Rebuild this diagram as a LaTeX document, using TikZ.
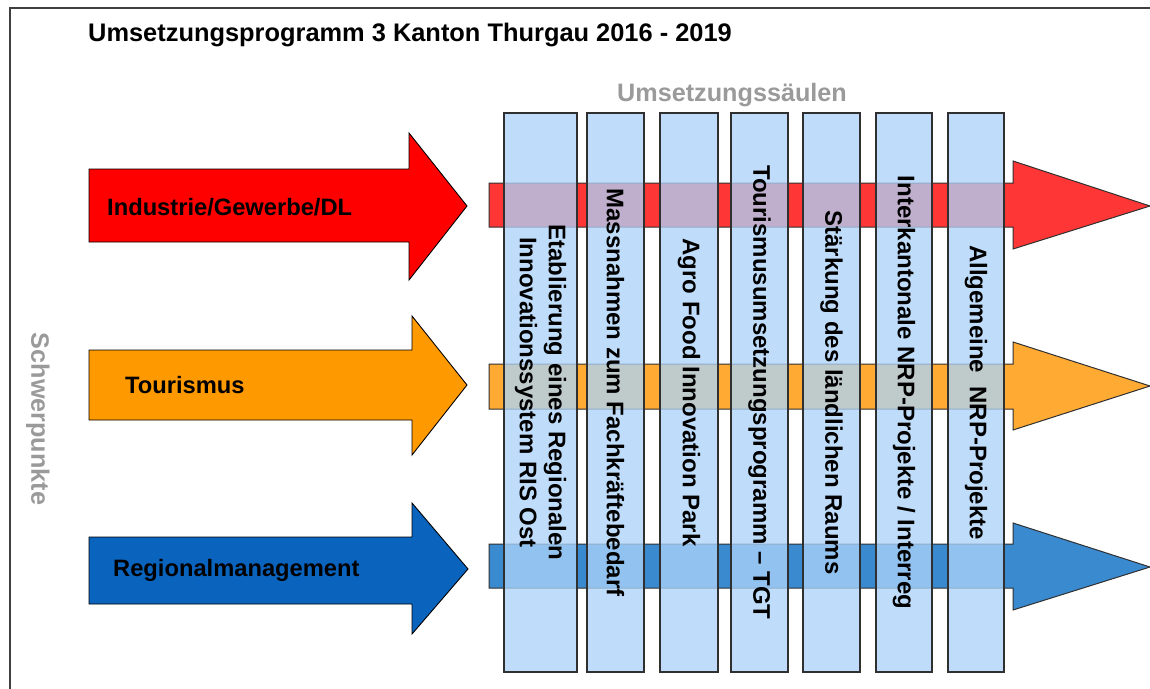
\documentclass[tikz,border=0pt]{standalone}
\usepackage{fontspec}
\setmainfont{Liberation Sans}
\definecolor{framegray}{HTML}{404040}
\definecolor{labelgray}{HTML}{9A9A9A}
\definecolor{redA}{HTML}{FF0000}
\definecolor{redB}{HTML}{FF3636}
\definecolor{orangeA}{HTML}{FF9900}
\definecolor{orangeB}{HTML}{FFAA33}
\definecolor{blueA}{HTML}{0A64BE}
\definecolor{blueB}{HTML}{3A8AD0}
\definecolor{colfill}{HTML}{ADD4FA}
\definecolor{coledge}{HTML}{303030}
\begin{document}
\begin{tikzpicture}[x=1pt,y=-1pt,
  bigarrow/.style={draw=black,line width=0.9pt,line join=miter},
  band/.style={draw=coledge,line width=1pt,line join=miter},
  pillar/.style={rotate=-90,draw=coledge,line width=1.4pt,fill=colfill,fill opacity=0.77,text opacity=1,
     minimum width=559pt,inner sep=0pt,align=center,font=\bfseries\fontsize{24}{29}\selectfont},
  arrowlabel/.style={anchor=west,inner sep=0pt,font=\bfseries\fontsize{23.7}{28}\selectfont},
  graylabel/.style={inner sep=0pt,text=labelgray,font=\bfseries\fontsize{25.2}{30}\selectfont}]
\useasboundingbox (0,0) rectangle (1150,688);
\fill[white] (0,0) rectangle (1150,688);
% frame
\draw[framegray,line width=2pt] (10,690) -- (10,8) -- (1152,8);
% title
\node[anchor=base west,inner sep=0pt,font=\bfseries\fontsize{25.4}{30}\selectfont] (title) at (88,41) {Umsetzungsprogramm 3 Kanton Thurgau 2016 - 2019};
\node[graylabel,anchor=base west] (saeulen) at (617,101) {Umsetzungssäulen};
\node[graylabel,rotate=-90] (schwer) at (38,419) {Schwerpunkte};
% left arrows
\path[bigarrow,fill=redA] (89,169) -- (409,169) -- (409,133) -- (467,206) -- (409,280) -- (409,242) -- (89,242) -- cycle;
\path[bigarrow,fill=orangeA] (89,350) -- (412,350) -- (412,316) -- (467,385) -- (412,455) -- (412,420) -- (89,420) -- cycle;
\path[bigarrow,fill=blueA] (89,537) -- (412,537) -- (412,503) -- (468,569) -- (412,634) -- (412,604) -- (89,604) -- cycle;
\node[arrowlabel] (industrie) at (107,207) {Industrie/Gewerbe/DL};
\node[arrowlabel] (tourismus) at (125,385) {Tourismus};
\node[arrowlabel] (regional) at (113,570) {Regionalmanagement};
% right bands
\path[band,fill=redB] (489,183) -- (1013,183) -- (1013,161) -- (1150,206) -- (1013,249) -- (1013,227) -- (489,227) -- cycle;
\path[band,fill=orangeB] (489,364) -- (1013,364) -- (1013,342) -- (1150,386) -- (1013,430) -- (1013,409) -- (489,409) -- cycle;
\path[band,fill=blueB] (489,544) -- (1013,544) -- (1013,523) -- (1150,567) -- (1013,610) -- (1013,588) -- (489,588) -- cycle;
% pillars
\node[pillar,minimum height=73pt] (c1) at (540.5,392.5) {Etablierung eines Regionalen\\Innovationssystem RIS Ost};
\node[pillar,minimum height=57pt] (c2) at (615.5,392.5) {Massnahmen zum Fachkräftebedarf};
\node[pillar,minimum height=58pt] (c3) at (689,392.5) {Agro Food Innovation Park};
\node[pillar,minimum height=57pt] (c4) at (759.5,392.5) {Tourismusumsetzungsprogramm – TGT};
\node[pillar,minimum height=57pt] (c5) at (831.5,392.5) {Stärkung des ländlichen Raums};
\node[pillar,minimum height=56pt] (c6) at (904,392.5) {Interkantonale NRP-Projekte / Interreg};
\node[pillar,minimum height=56pt] (c7) at (976,392.5) {Allgemeine\ \ NRP-Projekte};
\end{tikzpicture}
\end{document}
